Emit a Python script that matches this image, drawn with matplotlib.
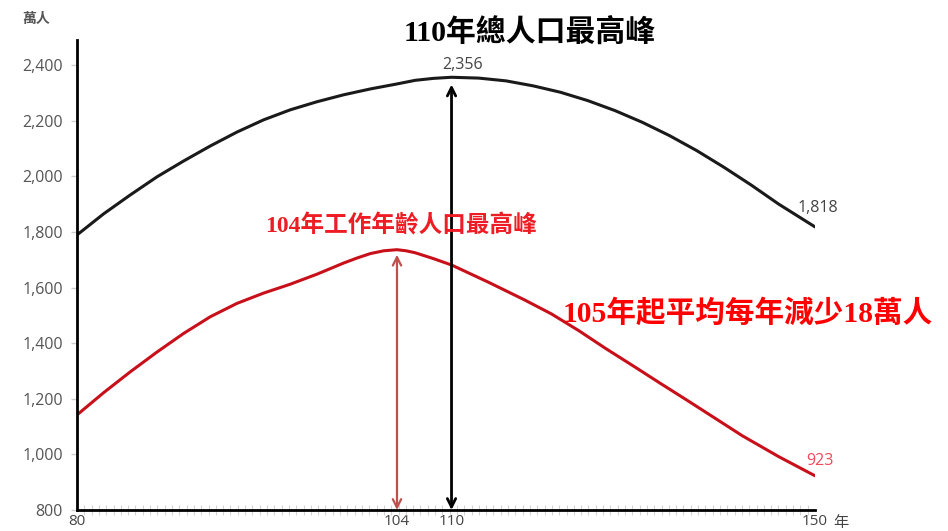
import matplotlib.pyplot as plt
import numpy as np

# Taiwan population (萬人), year = ROC year
total_years = [80, 82, 84, 86, 88, 90, 92, 94, 96, 98, 100, 102, 104, 106, 108,
               110, 113, 116, 119, 122, 125, 128, 131, 134, 137, 140, 143, 146,
               150]
total_pop = [1789, 1865, 1933, 1998, 2055, 2109, 2159, 2203, 2239, 2268, 2293,
             2314, 2332, 2345, 2352, 2356, 2353, 2343, 2325, 2302, 2272, 2236,
             2194, 2146, 2092, 2032, 1968, 1900, 1818]

work_years = [80, 82, 84, 86, 88, 90, 92, 94, 96, 98, 100, 101, 102, 103, 104,
              105, 106, 108, 110, 114, 118, 121, 124, 127, 130, 133, 136, 139,
              142, 146, 150]
work_pop = [1142, 1222, 1297, 1368, 1435, 1495, 1543, 1580, 1612, 1648, 1688,
            1706, 1722, 1732, 1736, 1732, 1725, 1704, 1681, 1620, 1556, 1505,
            1445, 1380, 1318, 1255, 1193, 1130, 1067, 992, 923]

x_ticks = [80, 104, 110, 150]
x_ticklabels = ["80", "104", "110", "150"]
y_ticks = [800, 1000, 1200, 1400, 1600, 1800, 2000, 2200, 2400]

total_peak_year, total_peak = 110, 2356
work_peak_year = 104

CJK = ["Noto Sans CJK TC", "DejaVu Sans"]
SERIF_CJK = ["Liberation Serif", "Noto Sans CJK TC"]
NUM = ["Open Sans", "Noto Sans CJK TC"]


# the source chart's year axis is stretched before 104
def _fwd(x):
    x = np.asarray(x, dtype=float)
    return np.where(x <= 104, (x - 80) * 13.333, 320 + (x - 104) * 9.087)


def _inv(u):
    u = np.asarray(u, dtype=float)
    return np.where(u <= 320, 80 + u / 13.333, 104 + (u - 320) / 9.087)


W, H = 948, 531
fig = plt.figure(figsize=(W / 100, H / 100), dpi=100)
ax = fig.add_axes([77 / W, 21 / H, 738 / W, 470 / H])
ax.set_xscale("function", functions=(_fwd, _inv))
ax.set_xlim(80, 150)
ax.set_ylim(800, 2490)

ax.plot(total_years, total_pop, color="#1a1a1a", lw=2.2, solid_capstyle="round")
ax.plot(work_years, work_pop, color="#c8101a", lw=2.2, solid_capstyle="round")

# peak arrows
ax.annotate("", xy=(total_peak_year, 2330), xytext=(total_peak_year, 800),
            arrowprops=dict(arrowstyle="<->,head_length=0.6,head_width=0.3",
                            color="black", lw=2, shrinkA=0, shrinkB=0))
ax.annotate("", xy=(work_peak_year, 1718), xytext=(work_peak_year, 800),
            arrowprops=dict(arrowstyle="<->,head_length=0.6,head_width=0.3",
                            color="#c0504d", lw=1.6, shrinkA=0, shrinkB=0))

# value labels
ax.text(111.2, 2400, f"{total_peak:,}", ha="center", va="center",
        fontsize=11.5, color="#444444", family=NUM)
ax.text(150.3, 1886, f"{total_pop[-1]:,}", ha="center", va="center",
        fontsize=11.5, color="#444444", family=NUM)
ax.text(150.5, 975, f"{work_pop[-1]:,}", ha="center", va="center",
        fontsize=11.5, color="#ee4a5a", family=NUM)

# axes styling
for side in ("top", "right"):
    ax.spines[side].set_visible(False)
for side in ("left", "bottom"):
    ax.spines[side].set_linewidth(2)
    ax.spines[side].set_color("black")

ax.set_yticks(y_ticks)
ax.set_yticklabels([f"{v:,}" for v in y_ticks], family=NUM, fontsize=11.5,
                   color="#555555")
ax.tick_params(axis="y", length=4, width=1, color="#cccccc", pad=6)

ax.set_xticks(x_ticks)
ax.set_xticklabels(x_ticklabels, family=NUM, fontsize=11, color="#444444")
ax.tick_params(axis="x", which="major", length=0, pad=3)
minor = _inv(np.linspace(0, 738, 102))
ax.set_xticks(minor, minor=True)
ax.tick_params(axis="x", which="minor", direction="inout", length=7,
               width=0.8, color="#d4d4d4")

fig.text(841 / W, 1 - 522 / H, "年", family=CJK, fontsize=11, color="#444444",
         ha="center", va="center")
fig.text(36 / W, 1 - 19 / H, "萬人", family=CJK, fontsize=10, color="#555555",
         weight="bold", ha="center", va="center")

# annotations
fig.text(530 / W, 1 - 32 / H, "110年總人口最高峰", family=SERIF_CJK,
         fontsize=21.5, weight="bold", color="black", ha="center", va="center")
fig.text(401 / W, 1 - 226 / H, "104年工作年齡人口最高峰", family=SERIF_CJK,
         fontsize=17, weight="bold", color="#ee1c24", ha="center", va="center")
fig.text(748 / W, 1 - 314 / H, "105年起平均每年減少18萬人", family=SERIF_CJK,
         fontsize=21.3, weight="bold", color="#ff0000", ha="center", va="center")

fig.savefig("out.png", dpi=100)
